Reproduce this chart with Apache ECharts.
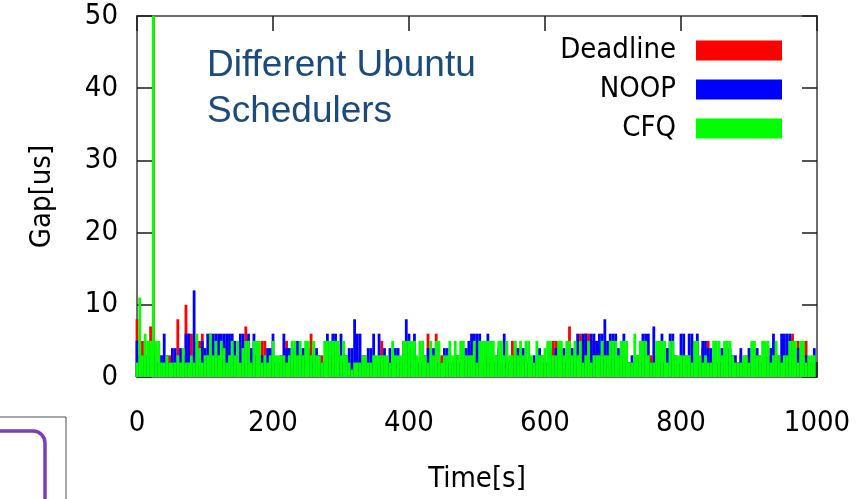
<!DOCTYPE html>
<html>
<head>
<meta charset="utf-8">
<script src="https://cdn.jsdelivr.net/npm/echarts@6/dist/echarts.min.js"></script>
<style>
  html, body { margin: 0; padding: 0; background: #ffffff; }
  #chart { width: 862px; height: 499px; }
</style>
</head>
<body>
<div id="chart"></div>
<script>
// Gap measurements (us) for three Linux I/O schedulers, one sample every 4 s.
const sampleStepSeconds = 4;

const deadline = [
  8,2,5,2,2,7,55,4,2,2, 2,2,3,2,3,8,2,2,10,6, 6,2,2,5,6,2,2,2,2,2, 3,2,2,5,2,2,3,2,2,2, 7,
  2,2,2,2,3,5,5,2,2,2, 2,2,3,2,5,2,2,2,2,2, 2,2,3,6,2,2,2,3,2,2, 3,2,2,3,2,2,2,2,2,2, 2,3,
  3,3,2,2,2,2,2,5,2,2, 2,2,2,2,2,5,2,2,2,2, 2,2,2,2,6,2,2,6,2,3, 2,2,2,2,2,3,2,2,3,2, 2,3,
  2,2,2,2,3,2,2,2,2,2, 2,2,2,5,5,2,2,2,2,2, 2,2,2,2,3,2,2,2,5,5, 5,4,2,2,7,2,2,2,6,5, 6,
  6,5,5,5,2,2,2,2,2,2, 2,2,3,2,3,2,2,2,3,2, 2,2,2,3,2,3,2,2,2,2, 2,2,3,2,2,2,3,2,2,2, 2,2,
  4,2,5,3,2,2,2,2,2,2, 3,2,2,2,3,2,3,2,2,2, 2,3,2,2,2,3,2,3,3,2, 2,2,2,6,2,5,2,5,5,2, 2,2
];

const noop = [
  5,3,2,3,3,2,3,2,2,3, 6,3,2,4,4,2,4,3,6,6, 3,12,5,2,5,4,6,6,6,6, 6,6,6,6,6,6,5,3,6,6, 2,
  6,4,6,3,2,3,2,4,4,6, 2,2,2,6,4,4,4,4,5,3, 4,4,4,2,3,4,3,2,2,6, 2,6,6,2,6,2,3,4,4,8, 6,6,
  2,2,4,4,6,2,6,2,4,2, 4,2,4,4,2,2,8,6,4,6, 2,2,2,3,4,4,4,2,2,2, 4,4,2,2,3,2,2,4,4,5, 6,6,
  6,6,2,2,6,2,2,3,4,2, 6,2,2,2,2,4,4,4,2,2, 2,3,2,4,2,2,2,4,2,4, 2,2,4,2,2,4,2,6,2,6, 6,
  2,6,6,5,6,6,8,5,6,6, 6,4,2,6,2,2,3,2,2,2, 6,6,6,2,7,2,2,6,2,4, 6,6,2,2,6,6,2,6,6,5, 6,2,
  5,5,4,4,2,2,2,4,4,4, 4,3,3,2,4,2,2,4,4,4, 4,2,2,3,2,4,6,2,2,6, 6,6,6,2,2,4,4,2,3,2, 2,4
];

const cfq = [
  2,11,3,6,5,5,55,5,5,2, 2,3,2,2,2,3,2,4,2,2, 3,2,6,4,2,3,3,6,3,5, 3,5,4,2,3,5,3,5,2,4, 5,
  5,2,5,5,5,2,3,2,3,5, 3,3,3,3,2,3,5,5,3,5, 3,5,5,3,5,3,3,2,5,5, 5,5,5,5,3,5,3,2,1,2, 2,2,
  3,3,2,2,3,3,3,3,3,3, 2,5,3,3,3,5,5,5,5,5, 3,5,5,3,2,5,3,5,5,2, 3,3,5,3,5,3,5,5,3,3, 3,5,
  2,5,5,5,5,5,5,3,5,5, 3,5,3,3,5,3,5,3,5,5, 3,2,5,3,3,4,5,5,3,3, 5,5,3,5,5,3,5,3,5,2, 3,
  5,2,3,3,3,5,3,3,5,5, 5,3,5,5,5,2,2,6,3,5, 5,5,3,2,2,5,5,5,5,2, 5,5,3,3,3,3,3,3,2,5, 5,3,
  2,3,2,2,5,5,5,3,5,5, 5,3,2,2,2,3,3,2,5,5, 3,3,5,5,5,2,3,5,3,2, 3,3,5,5,5,2,5,5,2,3, 3,3
];

const seriesNames = ['Deadline', 'NOOP', 'CFQ'];
const seriesColors = ['#ff0000', '#0000ff', '#00ff00'];
const xTicks = { min: 0, max: 1000, step: 200 };
const yTicks = { min: 0, max: 50, step: 10 };

const tickFont = 'DejaVu Sans Condensed, DejaVu Sans, sans-serif';
const frameColor = '#6e6e6e';

function toPoints(values) {
  return values.map((v, i) => [i * sampleStepSeconds, v]);
}

// Gnuplot-style ticks: drawn inward from every side of the frame.
function innerTicks() {
  return { show: true, inside: true, length: 15, lineStyle: { color: '#1a1a1a', width: 1.5 } };
}
function frameLine() {
  return { show: true, onZero: false, lineStyle: { color: frameColor, width: 2 } };
}

const chart = echarts.init(document.getElementById('chart'), null, { renderer: 'canvas' });

const option = {
  animation: false,
  backgroundColor: '#ffffff',
  grid: {
    left: 137, right: 45, top: 16, bottom: 121,
    show: true, borderColor: frameColor, borderWidth: 2, backgroundColor: 'transparent'
  },
  title: {
    text: 'Different Ubuntu\nSchedulers',
    left: 202, top: 38,
    textStyle: {
      fontFamily: 'Liberation Sans, Arial, sans-serif',
      fontSize: 37, fontWeight: 'normal', color: '#1b4b7c', lineHeight: 46
    }
  },
  legend: {
    orient: 'vertical',
    right: 75, top: 31,
    align: 'right',
    itemWidth: 86, itemHeight: 20, itemGap: 10,
    icon: 'rect',
    selectedMode: false,
    data: seriesNames,
    textStyle: {
      fontFamily: tickFont, fontSize: 29, color: '#000000',
      lineHeight: 29, padding: [0, 15, 0, 0]
    }
  },
  xAxis: [
    {
      type: 'value', position: 'bottom', min: xTicks.min, max: xTicks.max, interval: xTicks.step,
      name: 'Time[s]', nameLocation: 'middle', nameGap: 88,
      nameTextStyle: { fontFamily: tickFont, fontSize: 29, color: '#000000' },
      axisLine: frameLine(),
      axisTick: innerTicks(),
      splitLine: { show: false },
      axisLabel: {
        fontFamily: tickFont, fontSize: 29, color: '#000000', margin: 32,
        formatter: (v) => String(v)
      }
    },
    {
      type: 'value', position: 'top', min: xTicks.min, max: xTicks.max, interval: xTicks.step,
      axisLine: frameLine(), axisTick: innerTicks(), axisLabel: { show: false }, splitLine: { show: false }
    }
  ],
  yAxis: [
    {
      type: 'value', position: 'left', min: yTicks.min, max: yTicks.max, interval: yTicks.step,
      name: 'Gap[us]', nameLocation: 'middle', nameGap: 80, nameRotate: 90,
      nameTextStyle: { fontFamily: tickFont, fontSize: 29, color: '#000000' },
      axisLine: frameLine(),
      axisTick: innerTicks(),
      splitLine: { show: false },
      axisLabel: {
        fontFamily: tickFont, fontSize: 29, color: '#000000', margin: 19,
        formatter: (v) => String(v)
      }
    },
    {
      type: 'value', position: 'right', min: yTicks.min, max: yTicks.max, interval: yTicks.step,
      axisLine: frameLine(), axisTick: innerTicks(), axisLabel: { show: false }, splitLine: { show: false }
    }
  ],
  series: [deadline, noop, cfq].map((values, i) => ({
    name: seriesNames[i],
    type: 'bar',
    xAxisIndex: 0, yAxisIndex: 0,
    data: toPoints(values),
    barWidth: 2.8,
    barGap: '-100%',
    clip: true,
    itemStyle: { color: seriesColors[i] },
    emphasis: { disabled: true }
  })),
  graphic: [
    {
      type: 'rect', silent: true,
      shape: { x: -5, y: 417, width: 71, height: 100 },
      style: { fill: 'none', stroke: '#4d4d4d', lineWidth: 1 }
    },
    {
      type: 'rect', silent: true,
      shape: { x: -30, y: 431, width: 75, height: 100, r: 12 },
      style: { fill: 'none', stroke: '#7b3db8', lineWidth: 3.5 }
    }
  ]
};

chart.setOption(option);
</script>
</body>
</html>
